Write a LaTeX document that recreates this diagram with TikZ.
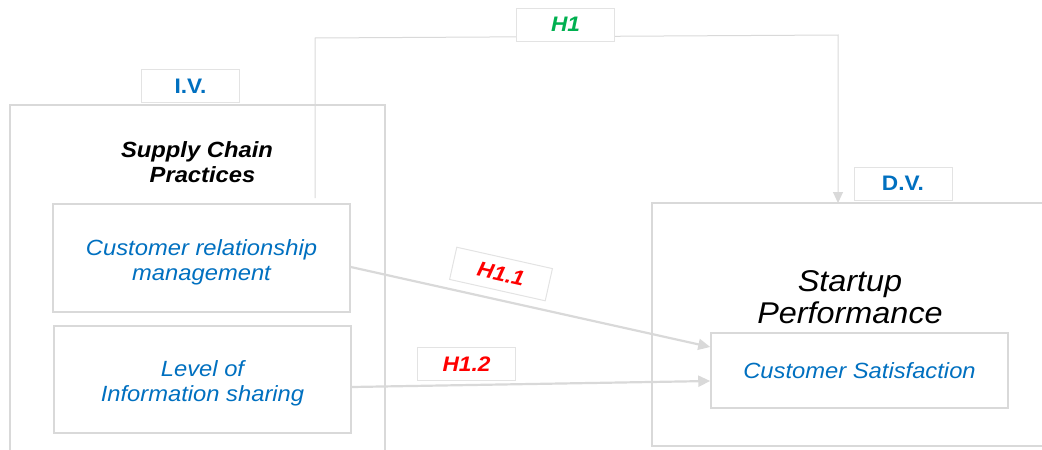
\documentclass[tikz,border=0pt]{standalone}
\usepackage{fontspec}
\setmainfont{Liberation Sans}[FakeStretch=1.08]
\usetikzlibrary{arrows.meta}
\definecolor{lgray}{HTML}{D9D9D9}
\definecolor{bgray}{HTML}{E3E3E3}
\definecolor{tblue}{HTML}{0070C0}
\definecolor{tred}{HTML}{FF0000}
\definecolor{tgreen}{HTML}{00B050}
\tikzset{
  varbox/.style={draw=lgray, line width=1.5pt, fill=white, minimum width=297pt, align=center,
    font=\fontsize{22}{25}\selectfont\itshape, text=tblue, inner sep=0pt},
  tagbox/.style={draw=bgray, line width=1pt, fill=white, minimum width=98pt, minimum height=33pt,
    inner sep=0pt, font=\fontsize{21}{24}\selectfont\bfseries},
  hyp/.style={tagbox, text=tred, font=\fontsize{21}{24}\selectfont\bfseries\itshape},
  conn/.style={draw=lgray, line width=2.2pt, -{Triangle[length=12pt,width=11pt]}},
  frame/.style={draw=lgray, line width=1.5pt},
}
\begin{document}
\begin{tikzpicture}[x=1pt,y=-1pt]
\useasboundingbox (0,0) rectangle (1042,450);
% outer frames
\draw[frame] (10,450) -- (10,105) -- (385,105) -- (385,450);
\draw[frame] (1042,203) -- (652,203) -- (652,446) -- (1042,446);
% H1 connector
\coordinate (h1start) at (315,198);
\coordinate (dvtop) at (838,203);
\draw[draw=lgray, line width=1pt, -{Triangle[length=11pt,width=10pt]}] (h1start) -- (315,38) -- (838,35) -- (dvtop);
\node[tagbox, text=tgreen, font=\fontsize{21}{24}\selectfont\bfseries\itshape] (h1) at (565.5,24.5) {H1};
% labels
\node[tagbox, text=tblue] (iv) at (190.5,86) {I.V.};
\node[tagbox, text=tblue] (dv) at (903,183.5) {D.V.};
\node[font=\fontsize{22}{25}\selectfont\bfseries\itshape, align=center] (scp) at (197,162) {Supply Chain\\\hspace*{0.5em}Practices};
\node[font=\fontsize{30}{32}\selectfont\itshape, align=center] (sp) at (850,297) {Startup\\Performance};
% variable boxes
\node[varbox, minimum height=108pt] (crm) at (201.5,258) {\rule{0pt}{24pt}Customer relationship\\management};
\node[varbox, minimum height=107pt] (lis) at (202.5,379.5) {\rule{0pt}{24pt}Level of\\Information sharing};
\node[varbox, minimum height=75pt] (cs) at (859.5,370.5) {Customer Satisfaction};
% arrows
\draw[conn] ([yshift=-9pt]crm.east) -- ([yshift=23.5pt]cs.west);
\draw[conn] ([yshift=-7.5pt]lis.east) -- ([yshift=-10.5pt]cs.west);
\node[hyp, rotate=-12.6] (h11) at (501,274) {H1.1};
\node[hyp] (h12) at (466.5,364) {H1.2};
\end{tikzpicture}
\end{document}
